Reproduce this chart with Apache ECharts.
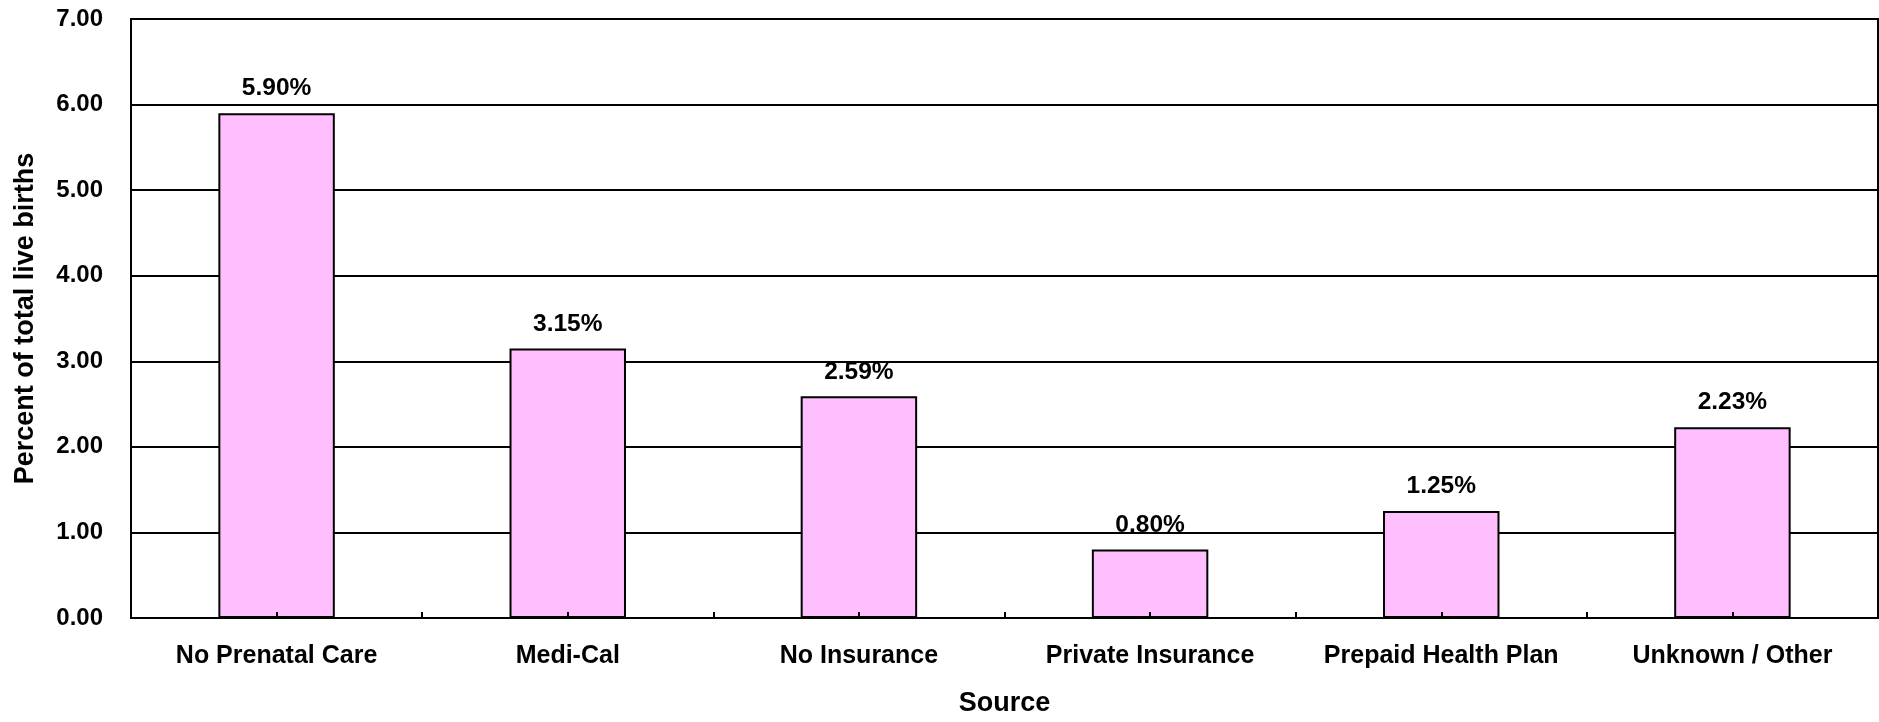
<!DOCTYPE html>
<html>
<head>
<meta charset="utf-8">
<script src="https://cdn.jsdelivr.net/npm/echarts@6/dist/echarts.min.js"></script>
<style>
html,body{margin:0;padding:0;background:#fff;}
#chart{width:1879px;height:722px;}
</style>
</head>
<body>
<div id="chart"></div>
<script>
const categories = ['No Prenatal Care', 'Medi-Cal', 'No Insurance', 'Private Insurance', 'Prepaid Health Plan', 'Unknown / Other'];
const values = [5.90, 3.15, 2.59, 0.80, 1.25, 2.23];
const yTicks = { min: 0, max: 7, interval: 1 };
const xTitle = 'Source';
const yTitle = 'Percent of total live births';

const FONT = '"Liberation Sans", Arial, sans-serif';
const chart = echarts.init(document.getElementById('chart'), null, { renderer: 'canvas' });
chart.setOption({
  animation: false,
  backgroundColor: '#ffffff',
  grid: {
    left: 131, right: 1, top: 19, bottom: 96,
    show: true, borderColor: '#000', borderWidth: 2, backgroundColor: 'transparent'
  },
  xAxis: [{
    type: 'category',
    data: categories,
    name: xTitle,
    nameLocation: 'middle',
    nameGap: 72,
    nameTextStyle: { fontFamily: FONT, fontWeight: 'bold', fontSize: 27, color: '#000' },
    axisLine: { show: true, lineStyle: { color: '#000', width: 2 } },
    axisTick: { show: true, inside: true, length: 6, alignWithLabel: false, lineStyle: { color: '#000', width: 2 } },
    axisLabel: { fontFamily: FONT, fontWeight: 'bold', fontSize: 25, color: '#000', margin: 26, interval: 0 },
    splitLine: { show: false }
  }, {
    type: 'category',
    data: categories,
    position: 'bottom',
    z: 10,
    axisLine: { show: false },
    axisTick: { show: true, inside: true, length: 6, alignWithLabel: true, lineStyle: { color: '#000', width: 2 } },
    axisLabel: { show: false },
    splitLine: { show: false }
  }],
  yAxis: {
    type: 'value',
    min: yTicks.min, max: yTicks.max, interval: yTicks.interval,
    name: yTitle,
    nameLocation: 'middle',
    nameGap: 92,
    nameRotate: 90,
    nameTextStyle: { fontFamily: FONT, fontWeight: 'bold', fontSize: 27, color: '#000' },
    axisLine: { show: true, lineStyle: { color: '#000', width: 2 } },
    axisTick: { show: true, inside: true, length: 7, lineStyle: { color: '#000', width: 2 } },
    axisLabel: { fontFamily: FONT, fontWeight: 'bold', fontSize: 24, color: '#000', margin: 28,
      formatter: v => v.toFixed(2) },
    splitLine: { show: true, lineStyle: { color: '#000', width: 2 } }
  },
  series: [{
    type: 'bar',
    xAxisIndex: 0,
    data: values,
    barWidth: '40%',
    itemStyle: { color: '#FFBFFF', borderColor: '#000', borderWidth: 2 },
    label: {
      show: true, position: 'top', distance: 12,
      fontFamily: FONT, fontWeight: 'bold', fontSize: 24.5, color: '#000',
      formatter: p => p.value.toFixed(2) + '%'
    }
  }]
});
</script>
</body>
</html>
